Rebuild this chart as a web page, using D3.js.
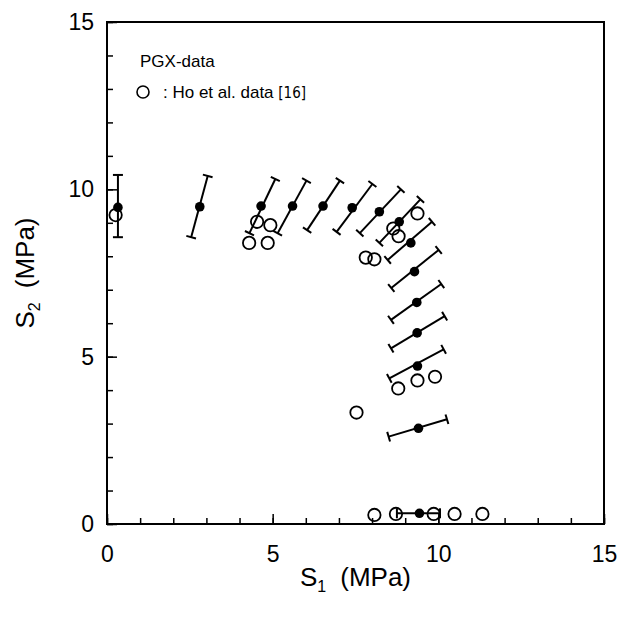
<!DOCTYPE html>
<html>
<head>
<meta charset="utf-8">
<script src="https://cdn.jsdelivr.net/npm/d3@7"></script>
<style>
  body { margin: 0; background: #fff; }
  svg { display: block; font-family: "Liberation Sans", Arial, sans-serif; }
</style>
</head>
<body>
<div id="chart"></div>
<script>
// PGX data: point and radial error bar ends (S1, S2 in MPa)
var pgxS1 = [0.33, 2.80, 4.65, 5.60, 6.52, 7.40, 8.22, 8.82, 9.17, 9.28, 9.35, 9.36, 9.37, 9.40, 9.43];
var pgxS2 = [9.46, 9.48, 9.50, 9.50, 9.50, 9.45, 9.33, 9.03, 8.40, 7.54, 6.62, 5.71, 4.72, 2.86, 0.32];
var loS1 = [0.33, 2.54, 4.30, 5.15, 6.04, 6.93, 7.63, 8.22, 8.47, 8.58, 8.57, 8.57, 8.52, 8.50, 8.75];
var loS2 = [8.57, 8.57, 8.69, 8.69, 8.78, 8.73, 8.69, 8.40, 7.89, 7.05, 6.10, 5.25, 4.35, 2.61, 0.32];
var hiS1 = [0.33, 3.04, 5.08, 6.02, 7.03, 8.01, 8.87, 9.46, 9.81, 10.01, 10.09, 10.19, 10.16, 10.26, 10.05];
var hiS2 = [10.43, 10.40, 10.31, 10.26, 10.26, 10.16, 10.00, 9.70, 9.03, 8.19, 7.17, 6.21, 5.22, 3.13, 0.32];

// Ho et al. data [16]
var hoS1 = [0.26, 4.53, 4.93, 4.29, 4.85, 9.37, 8.64, 8.80, 7.81, 8.07, 8.79, 9.37, 9.90, 7.53, 8.07, 8.72, 9.86, 10.49, 11.33];
var hoS2 = [9.23, 9.03, 8.93, 8.40, 8.40, 9.28, 8.83, 8.60, 7.96, 7.91, 4.05, 4.29, 4.40, 3.33, 0.27, 0.30, 0.30, 0.30, 0.30];

var majorTicks = [0, 5, 10, 15];
var minorTicks = d3.range(0, 16, 1);

var margin = {top: 22, right: 18, bottom: 97, left: 107},
    width = 622 - margin.left - margin.right,
    height = 621 - margin.top - margin.bottom;

var x = d3.scaleLinear().domain([0, 15]).range([0, width]);
var y = d3.scaleLinear().domain([0, 15]).range([height, 0]);

var svg = d3.select("#chart").append("svg")
    .attr("width", 622)
    .attr("height", 621)
  .append("g")
    .attr("transform", "translate(" + margin.left + "," + margin.top + ")");

// frame
svg.append("rect")
  .attr("width", width)
  .attr("height", height)
  .attr("fill", "none")
  .attr("stroke", "#000")
  .attr("stroke-width", 2);

function styleAxis(g, size) {
  g.select(".domain").remove();
  g.selectAll(".tick line").attr("stroke", "#000").attr("stroke-width", 1.5);
  g.selectAll(".tick text").attr("fill", "#000").attr("font-size", size);
}

svg.append("g")
  .attr("transform", "translate(0," + height + ")")
  .call(d3.axisBottom(x).tickValues(minorTicks).tickSize(-6).tickFormat(""))
  .call(styleAxis, 0);
svg.append("g")
  .call(d3.axisLeft(y).tickValues(minorTicks).tickSize(-6).tickFormat(""))
  .call(styleAxis, 0);

svg.append("g")
  .attr("transform", "translate(0," + height + ")")
  .call(d3.axisBottom(x).tickValues(majorTicks).tickSize(-10).tickPadding(22).tickFormat(d3.format("d")))
  .call(styleAxis, 23);
svg.append("g")
  .call(d3.axisLeft(y).tickValues(majorTicks).tickSize(-10).tickPadding(13).tickFormat(d3.format("d")))
  .call(styleAxis, 23);

// axis titles
var xt = svg.append("text")
  .attr("x", width / 2)
  .attr("y", height + 62)
  .attr("text-anchor", "middle")
  .attr("font-size", 26);
xt.append("tspan").text("S");
xt.append("tspan").attr("font-size", 16).attr("dy", 6).text("1");
xt.append("tspan").attr("dy", -6).attr("dx", 14).text("(MPa)");

var yt = svg.append("text")
  .attr("transform", "translate(-73," + (height / 2) + ") rotate(-90)")
  .attr("text-anchor", "middle")
  .attr("font-size", 26);
yt.append("tspan").text("S");
yt.append("tspan").attr("font-size", 16).attr("dy", 6).text("2");
yt.append("tspan").attr("dy", -6).attr("dx", 14).text("(MPa)");

// error bars with caps perpendicular to the bar
var pgx = pgxS1.map(function(d, i) {
  return {s1: d, s2: pgxS2[i], lo1: loS1[i], lo2: loS2[i], hi1: hiS1[i], hi2: hiS2[i]};
});

var bars = svg.append("g").attr("stroke", "#000").attr("stroke-width", 2);
pgx.forEach(function(d) {
  var x1 = x(d.lo1), y1 = y(d.lo2), x2 = x(d.hi1), y2 = y(d.hi2);
  bars.append("line").attr("x1", x1).attr("y1", y1).attr("x2", x2).attr("y2", y2);
  var len = Math.sqrt((x2 - x1) * (x2 - x1) + (y2 - y1) * (y2 - y1));
  var nx = -(y2 - y1) / len * 5, ny = (x2 - x1) / len * 5;
  [[x1, y1], [x2, y2]].forEach(function(p) {
    bars.append("line")
      .attr("x1", p[0] - nx).attr("y1", p[1] - ny)
      .attr("x2", p[0] + nx).attr("y2", p[1] + ny);
  });
});

svg.selectAll(".pgx")
    .data(pgx)
  .enter().append("circle")
    .attr("class", "pgx")
    .attr("cx", function(d) { return x(d.s1); })
    .attr("cy", function(d) { return y(d.s2); })
    .attr("r", 4.8)
    .attr("fill", "#000");

svg.selectAll(".ho")
    .data(hoS1.map(function(d, i) { return {s1: d, s2: hoS2[i]}; }))
  .enter().append("circle")
    .attr("class", "ho")
    .attr("cx", function(d) { return x(d.s1); })
    .attr("cy", function(d) { return y(d.s2); })
    .attr("r", 6.2)
    .attr("fill", "none")
    .attr("stroke", "#000")
    .attr("stroke-width", 1.8);

// legend
svg.append("text")
  .attr("x", 33)
  .attr("y", 45)
  .attr("font-size", 17)
  .text("PGX-data");
svg.append("circle")
  .attr("cx", 36)
  .attr("cy", 70)
  .attr("r", 6)
  .attr("fill", "none")
  .attr("stroke", "#000")
  .attr("stroke-width", 1.6);
var lg = svg.append("text")
  .attr("x", 56)
  .attr("y", 76)
  .attr("font-size", 17);
lg.append("tspan").text(": Ho et al. data ");
lg.append("tspan").attr("font-size", 15).attr("font-family", "DejaVu Sans Condensed, sans-serif").text("[16]");
</script>
</body>
</html>
